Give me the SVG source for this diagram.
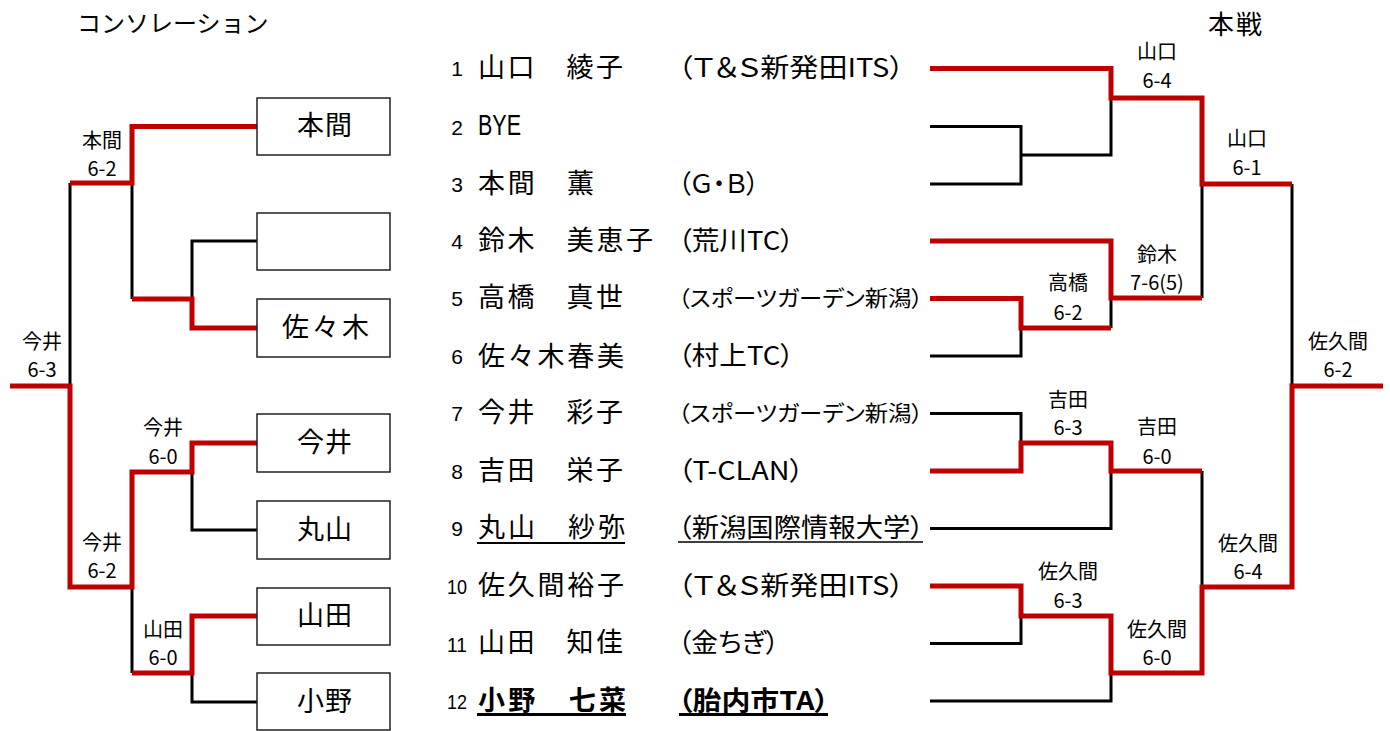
<svg xmlns="http://www.w3.org/2000/svg" width="1390" height="731" viewBox="0 0 1390 731">
<style>
text{font-family:"Noto Sans CJK JP","Liberation Sans",sans-serif;fill:#000}
.title{font-size:24px}
.lbl{font-size:20px;text-anchor:middle}
.num{font-family:"Liberation Sans","Noto Sans CJK JP",sans-serif;font-size:21px;text-anchor:middle}
.name{font-size:27px}
.team{font-size:26px;font-feature-settings:"palt"}
.team.sm{font-size:22px}
.bold{font-weight:bold}
.box rect{fill:#fff;stroke:#222;stroke-width:1.5}
.box text{font-size:27px}
.blk{fill:none;stroke:#000;stroke-width:3}
.red{fill:none;stroke:#C00000;stroke-width:5}
.ul{stroke:#000}
</style>

<text class="title" x="77" y="32">コンソレーション</text>
<text class="title" x="1208" y="34" style="font-size:26px;letter-spacing:2px">本戦</text>

<g id="connectors">
  <g class="blk">
    <path d="M930,126.5 H1021 V184 H930"/>
    <path d="M1021,155 H1111 V98"/>
    <path d="M1021,328 V356 H930"/>
    <path d="M1111,298 V328"/>
    <path d="M1202,184 V298"/>
    <path d="M1292,184 V386"/>
    <path d="M930,413.5 H1021 V443"/>
    <path d="M1111,471 V528.5 H930"/>
    <path d="M1202,471 V587"/>
    <path d="M930,643.5 H1021 V616"/>
    <path d="M930,701 H1111 V673"/>
    <path d="M70,183 V386"/>
    <path d="M132,183 V299"/>
    <path d="M257,241 H192 V299"/>
    <path d="M192,472 V530 H257"/>
    <path d="M132,587 V673"/>
    <path d="M192,673 V702 H257"/>
  </g>
  <g class="red">
    <path d="M930,68.5 H1111 V98 H1202 V184 H1292"/>
    <path d="M930,241 H1111 V298 H1202"/>
    <path d="M930,298.5 H1021 V328 H1111"/>
    <path d="M930,471 H1021 V443 H1111 V471 H1202"/>
    <path d="M930,586 H1021 V616 H1111 V673 H1202 V587 H1292 V386 H1383"/>
    <path d="M257,126.5 H132 V183 H70"/>
    <path d="M132,299 H192 V328 H257"/>
    <path d="M10,386 H70 V587 H132 V472 H192 V443 H257"/>
    <path d="M132,673 H192 V616 H257"/>
  </g>
</g>

<g id="main-labels">
  <g id="m-r1a"><text class="lbl" x="1157" y="59">山口</text><text class="lbl" x="1157" y="88">6-4</text></g>
  <g id="m-r2a"><text class="lbl" x="1247" y="146">山口</text><text class="lbl" x="1247" y="175">6-1</text></g>
  <g id="m-r1b"><text class="lbl" x="1157" y="262">鈴木</text><text class="lbl" x="1157" y="290">7-6(5)</text></g>
  <g id="m-r0a"><text class="lbl" x="1068" y="290">高橋</text><text class="lbl" x="1068" y="320">6-2</text></g>
  <g id="m-final"><text class="lbl" x="1338" y="349">佐久間</text><text class="lbl" x="1338" y="377">6-2</text></g>
  <g id="m-r0b"><text class="lbl" x="1068" y="407">吉田</text><text class="lbl" x="1068" y="435">6-3</text></g>
  <g id="m-r1c"><text class="lbl" x="1157" y="434">吉田</text><text class="lbl" x="1157" y="464">6-0</text></g>
  <g id="m-r2b"><text class="lbl" x="1248" y="551">佐久間</text><text class="lbl" x="1248" y="579">6-4</text></g>
  <g id="m-r0c"><text class="lbl" x="1068" y="579">佐久間</text><text class="lbl" x="1068" y="608">6-3</text></g>
  <g id="m-r1d"><text class="lbl" x="1157" y="637">佐久間</text><text class="lbl" x="1157" y="665">6-0</text></g>
</g>

<g id="cons-labels">
  <g id="c-a"><text class="lbl" x="102" y="148">本間</text><text class="lbl" x="102" y="176">6-2</text></g>
  <g id="c-final"><text class="lbl" x="42" y="349">今井</text><text class="lbl" x="42" y="377">6-3</text></g>
  <g id="c-b"><text class="lbl" x="163" y="435">今井</text><text class="lbl" x="163" y="464">6-0</text></g>
  <g id="c-c"><text class="lbl" x="102" y="550">今井</text><text class="lbl" x="102" y="578">6-2</text></g>
  <g id="c-d"><text class="lbl" x="163" y="637">山田</text><text class="lbl" x="163" y="665">6-0</text></g>
</g>

<g id="cons-boxes">
  <g id="box-honma" class="box"><rect x="257" y="98" width="133" height="57"/><text x="297" y="135" style="letter-spacing:1px">本間</text></g>
  <g id="box-empty" class="box"><rect x="257" y="213" width="133" height="57"/></g>
  <g id="box-sasaki" class="box"><rect x="257" y="299" width="133" height="58"/><text x="282" y="337" style="letter-spacing:3px">佐々木</text></g>
  <g id="box-imai" class="box"><rect x="257" y="414" width="133" height="58"/><text x="297" y="452" style="letter-spacing:1px">今井</text></g>
  <g id="box-maruyama" class="box"><rect x="257" y="501" width="133" height="58"/><text x="297" y="539" style="letter-spacing:1px">丸山</text></g>
  <g id="box-yamada" class="box"><rect x="257" y="588" width="133" height="57"/><text x="297" y="625" style="letter-spacing:1px">山田</text></g>
  <g id="box-ono" class="box"><rect x="257" y="673" width="133" height="57"/><text x="297" y="711" style="letter-spacing:1px">小野</text></g>
</g>

<g id="players">
  <g id="p1"><text class="num" x="457" y="76">1</text><text class="name" x="478" y="77" textLength="145">山口　綾子</text><text class="team" x="678" y="77" textLength="226" lengthAdjust="spacingAndGlyphs">（Ｔ＆Ｓ新発田ITS）</text></g>
  <g id="p2"><text class="num" x="457" y="135">2</text><text class="name" x="478" y="135" style="font-family:'Liberation Sans',sans-serif;font-size:29px" textLength="43" lengthAdjust="spacingAndGlyphs">BYE</text></g>
  <g id="p3"><text class="num" x="457" y="192">3</text><text class="name" x="478" y="193" textLength="116">本間　薫</text><text class="team" x="678" y="193" textLength="81" lengthAdjust="spacingAndGlyphs">（Ｇ・Ｂ）</text></g>
  <g id="p4"><text class="num" x="457" y="249">4</text><text class="name" x="478" y="250" textLength="175">鈴木　美恵子</text><text class="team" x="678" y="250" textLength="116" lengthAdjust="spacingAndGlyphs">（荒川TC）</text></g>
  <g id="p5"><text class="num" x="457" y="306">5</text><text class="name" x="478" y="307" textLength="145">高橋　真世</text><text class="team sm" x="678" y="306" textLength="245" lengthAdjust="spacingAndGlyphs">（スポーツガーデン新潟）</text></g>
  <g id="p6"><text class="num" x="457" y="364">6</text><text class="name" x="478" y="366" textLength="146">佐々木春美</text><text class="team" x="678" y="365" textLength="116" lengthAdjust="spacingAndGlyphs">（村上TC）</text></g>
  <g id="p7"><text class="num" x="457" y="421">7</text><text class="name" x="478" y="422" textLength="145">今井　彩子</text><text class="team sm" x="678" y="421" textLength="245" lengthAdjust="spacingAndGlyphs">（スポーツガーデン新潟）</text></g>
  <g id="p8"><text class="num" x="457" y="479">8</text><text class="name" x="478" y="480" textLength="145">吉田　栄子</text><text class="team" x="678" y="480" textLength="126" lengthAdjust="spacingAndGlyphs">（T-CLAN）</text></g>
  <g id="p9"><text class="num" x="457" y="536">9</text><text class="name" x="478" y="537" textLength="147">丸山　紗弥</text><text class="team" x="678" y="537" textLength="246" lengthAdjust="spacingAndGlyphs">（新潟国際情報大学）</text>
    <line class="ul" x1="477" y1="543" x2="625" y2="543" stroke-width="2"/><line class="ul" x1="678" y1="542" x2="923" y2="542" stroke-width="1.5"/></g>
  <g id="p10"><text class="num" x="457" y="594" textLength="20" lengthAdjust="spacingAndGlyphs">10</text><text class="name" x="478" y="595" textLength="146">佐久間裕子</text><text class="team" x="678" y="595" textLength="226" lengthAdjust="spacingAndGlyphs">（Ｔ＆Ｓ新発田ITS）</text></g>
  <g id="p11"><text class="num" x="457" y="652" textLength="20" lengthAdjust="spacingAndGlyphs">11</text><text class="name" x="478" y="652" textLength="145">山田　知佳</text><text class="team" x="678" y="652" textLength="101" lengthAdjust="spacingAndGlyphs">（金ちぎ）</text></g>
  <g id="p12"><text class="num" x="457" y="709" textLength="20" lengthAdjust="spacingAndGlyphs">12</text><text class="name bold" x="478" y="710" textLength="148">小野　七菜</text><text class="team bold" x="678" y="710" textLength="151" lengthAdjust="spacingAndGlyphs">（胎内市TA）</text>
    <line class="ul" x1="477" y1="714.5" x2="626" y2="714.5" stroke-width="3"/><line class="ul" x1="679" y1="714.5" x2="828" y2="714.5" stroke-width="3"/></g>
</g>
</svg>
